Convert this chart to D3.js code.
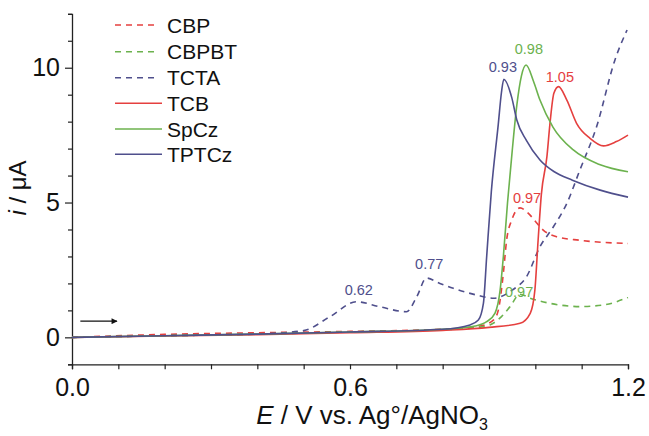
<!DOCTYPE html>
<html><head><meta charset="utf-8">
<script src="https://cdn.jsdelivr.net/npm/d3@7"></script>
<style>
html,body{margin:0;padding:0;background:#fff;}
svg{display:block;font-family:"Liberation Sans",Arial,Helvetica,sans-serif;}
</style></head>
<body><svg id="c" width="649" height="436"></svg>
<script>
// ---- data (E in V, i in µA) ----
const seriesNames = ["CBP","CBPBT","TCTA","TCB","SpCz","TPTCz"];
const seriesColors = ["#e5403f","#6cb24e","#4f4f8c","#e5403f","#6cb24e","#4f4f8c"];
const seriesDashed = [true,true,true,false,false,false];

const E_CBP = [0,0.2,0.4,0.6,0.8,0.88,0.91,0.92,0.931,0.938,0.949,0.967,0.985,1.003,1.017,1.046,1.096,1.2];
const I_CBP = [0,0.11,0.17,0.22,0.3,0.42,0.65,1.0,2.38,3.6,4.35,4.8,4.6,4.24,3.98,3.73,3.6,3.48];

const E_CBPBT = [0,0.2,0.4,0.6,0.8,0.88,0.902,0.927,0.945,0.967,0.989,1.032,1.096,1.147,1.2];
const I_CBPBT = [0,0.06,0.12,0.2,0.28,0.38,0.46,0.77,1.13,1.6,1.45,1.26,1.14,1.2,1.48];

const E_TCTA = [0,0.2,0.4,0.5,0.557,0.614,0.665,0.722,0.744,0.765,0.794,0.823,0.873,0.91,0.95,0.981,1.01,1.039,1.068,1.096,1.132,1.172,1.198];
const I_TCTA = [0,0.06,0.12,0.25,0.77,1.32,1.13,0.95,1.5,2.2,2.0,1.82,1.57,1.45,1.75,2.25,3.36,4.1,4.97,6.2,7.8,10.3,11.4];

const E_TCB = [0,0.2,0.4,0.6,0.8,0.9,0.967,0.989,0.999,1.006,1.013,1.025,1.032,1.04,1.05,1.068,1.089,1.118,1.147,1.175,1.2];
const I_TCB = [0,0.05,0.1,0.17,0.26,0.37,0.52,0.89,1.75,3.6,5.3,6.7,8.0,9.05,9.3,8.8,7.94,7.38,7.1,7.26,7.5];

const E_SpCz = [0,0.2,0.4,0.6,0.8,0.87,0.895,0.913,0.924,0.931,0.94,0.95,0.96,0.97,0.98,0.996,1.01,1.038,1.082,1.14,1.2];
const I_SpCz = [0,0.06,0.12,0.2,0.3,0.42,0.58,0.9,1.75,3.0,5.0,6.9,8.6,9.7,10.1,9.5,8.8,7.8,6.95,6.4,6.14];

const E_TPTCz = [0,0.2,0.4,0.6,0.8,0.859,0.877,0.888,0.895,0.905,0.92,0.927,0.932,0.949,0.96,0.981,1.01,1.04,1.08,1.14,1.2];
const I_TPTCz = [0,0.06,0.12,0.2,0.3,0.46,0.64,1.27,3.0,5.4,7.9,9.1,9.57,8.9,8.06,7.3,6.58,6.15,5.83,5.46,5.2];

const seriesE = [E_CBP,E_CBPBT,E_TCTA,E_TCB,E_SpCz,E_TPTCz];
const seriesI = [I_CBP,I_CBPBT,I_TCTA,I_TCB,I_SpCz,I_TPTCz];

const annoText = ["0.93","0.98","1.05","0.97","0.97","0.62","0.77"];
const annoE    = [0.930,0.986,1.053,0.982,0.965,0.619,0.771];
const annoI    = [9.84,10.51,9.47,4.98,1.50,1.57,2.53];
const annoColor= ["#4f4f8c","#6cb24e","#e5403f","#e5403f","#6cb24e","#4f4f8c","#4f4f8c"];

const xTickLabels = [0.0,0.6,1.2];
const yTickLabels = [0,5,10];

// ---- layout ----
const svg = d3.select("#c");
const x = d3.scaleLinear().domain([0,1.2]).range([72,628]);
const y = d3.scaleLinear().domain([-1,12]).range([364.3,13.8]);

// axes
const xAxis = d3.axisBottom(x).tickValues(d3.range(0,13).map(k=>k/10))
  .tickSize(5).tickFormat(d=> xTickLabels.some(v=>Math.abs(v-d)<1e-9) ? d3.format(".1f")(d) : "");
const gx = svg.append("g").attr("transform",`translate(0,${y(-1)})`).call(xAxis);
gx.select(".domain").attr("stroke","#222").attr("stroke-width",1.3);
gx.selectAll(".tick line").attr("stroke","#222").attr("stroke-width",1.2);
gx.selectAll(".tick text").attr("font-size",25).attr("fill","#111").attr("dy","0.95em")
  .style("font-family","'Liberation Sans',Arial,sans-serif");

const yAxis = d3.axisLeft(y).tickValues(d3.range(-1,13)).tickSize(4)
  .tickFormat(d=> yTickLabels.includes(d) ? d : "");
const gy = svg.append("g").attr("transform",`translate(${x(0)},0)`).call(yAxis);
gy.select(".domain").attr("stroke","#222").attr("stroke-width",1.3);
gy.selectAll(".tick line").attr("stroke","#222").attr("stroke-width",1.2)
  .attr("x2", d=> yTickLabels.includes(d) ? -7 : -4);
gy.selectAll(".tick text").attr("font-size",25).attr("fill","#111").attr("x",-12)
  .style("font-family","'Liberation Sans',Arial,sans-serif");

// curves
const line = d3.line().curve(d3.curveMonotoneX).x(d=>x(d[0])).y(d=>y(d[1]));
seriesNames.forEach((n,k)=>{
  const pts = seriesE[k].map((e,j)=>[e, seriesI[k][j]]);
  svg.append("path").datum(pts).attr("d",line).attr("fill","none")
    .attr("stroke",seriesColors[k]).attr("stroke-width",1.6)
    .attr("stroke-dasharray", seriesDashed[k] ? "6,5" : null);
});

// annotations
annoText.forEach((t,k)=>{
  svg.append("text").attr("x",x(annoE[k])).attr("y",y(annoI[k]))
    .attr("text-anchor","middle").attr("font-size",14.5).attr("fill",annoColor[k]).text(t);
});

// arrow
svg.append("defs").append("marker").attr("id","ah").attr("viewBox","0 0 10 10")
  .attr("refX",9).attr("refY",5).attr("markerWidth",10).attr("markerHeight",6)
  .attr("markerUnits","userSpaceOnUse").attr("orient","auto")
  .append("path").attr("d","M0,0L10,5L0,10Z").attr("fill","#111");
svg.append("line").attr("x1",x(0.018)).attr("x2",x(0.097)).attr("y1",y(0.6)).attr("y2",y(0.6))
  .attr("stroke","#111").attr("stroke-width",1.4).attr("marker-end","url(#ah)");

// legend
const legY = [25,51.7,77.7,103.3,129,154.3];
seriesNames.forEach((n,k)=>{
  svg.append("line").attr("x1",115).attr("x2",seriesDashed[k]?157:162)
    .attr("y1",legY[k]).attr("y2",legY[k]).attr("stroke",seriesColors[k]).attr("stroke-width",1.6)
    .attr("stroke-dasharray", seriesDashed[k] ? "6,5" : null);
  svg.append("text").attr("x",167).attr("y",legY[k]).attr("dy","0.36em")
    .attr("font-size",21).attr("fill","#111").text(n);
});

// axis titles
const yt = svg.append("text").attr("transform","translate(26,188) rotate(-90)")
  .attr("text-anchor","middle").attr("font-size",24).attr("fill","#111");
yt.append("tspan").attr("font-style","italic").text("i");
yt.append("tspan").text(" / μA");

const xt = svg.append("text").attr("x",372).attr("y",424)
  .attr("text-anchor","middle").attr("font-size",26).attr("fill","#111");
xt.append("tspan").attr("font-style","italic").text("E");
xt.append("tspan").text(" / V vs. Ag°/AgNO");
xt.append("tspan").attr("font-size",16).attr("dy",6).text("3");
</script></body></html>
